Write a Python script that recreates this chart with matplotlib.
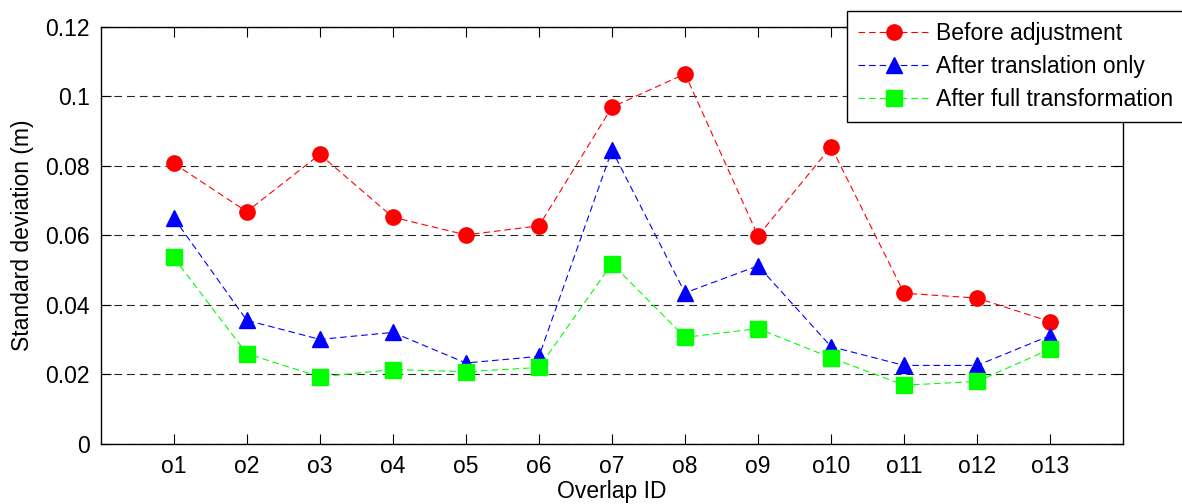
import matplotlib
matplotlib.use("Agg")
import matplotlib.pyplot as plt
import numpy as np

plt.rcParams['font.family'] = ['Liberation Sans', 'DejaVu Sans']

# Overlap ids and standard deviations (m)
overlaps = ["o1", "o2", "o3", "o4", "o5", "o6", "o7", "o8", "o9", "o10", "o11", "o12", "o13"]
before_adj = [0.0807, 0.0668, 0.0833, 0.0652, 0.0601, 0.0627, 0.0969,
              0.1065, 0.0598, 0.0855, 0.0433, 0.0419, 0.0351]
after_translation = [0.0650, 0.0355, 0.0300, 0.0320, 0.0232, 0.0251, 0.0845,
                     0.0434, 0.0512, 0.0279, 0.0225, 0.0225, 0.0311]
after_full = [0.0536, 0.0259, 0.0192, 0.0213, 0.0207, 0.0219, 0.0518,
              0.0306, 0.0331, 0.0247, 0.0168, 0.0179, 0.0272]
y_ticks = [0, 0.02, 0.04, 0.06, 0.08, 0.1, 0.12]

x = np.arange(1, len(overlaps) + 1)

fig = plt.figure(figsize=(11.82, 5.04), dpi=100)
ax = fig.add_axes([0.0852, 0.120, 0.8651, 0.8265])

series = [
    (before_adj, 'o', '#ff0000', 'Before adjustment'),
    (after_translation, '^', '#0000ff', 'After translation only'),
    (after_full, 's', '#00ff00', 'After full transformation'),
]
for vals, mk, col, lab in series:
    ax.plot(x, vals, linestyle='--', dashes=(6, 3.5), lw=0.8, color=col,
            marker=mk, markersize=11, markerfacecolor=col, markeredgecolor=col,
            label=lab)

ax.set_xlim(0, 14)
ax.set_ylim(0, 0.12)
ax.set_xticks(x)
ax.set_xticklabels(overlaps)
ax.set_yticks(y_ticks)
ax.set_yticklabels([f"{v:g}" for v in y_ticks])
ax.yaxis.grid(True, linestyle=(0, (7, 4.5)), color='0.15', lw=0.8)
ax.set_axisbelow(True)

ax.tick_params(direction='in', length=7.5, width=0.8, labelsize=16.5,
               top=True, right=True, pad=8)
for sp in ax.spines.values():
    sp.set_linewidth(1.0)
    sp.set_color('black')

ax.set_xlabel('Overlap ID', fontsize=16.5, labelpad=2)
ax.set_ylabel('Standard deviation (m)', fontsize=16.5, labelpad=8)

# legend runs past the right edge of the figure, as in the original
leg = fig.legend(loc='upper left', bbox_to_anchor=(847 / 1182, 1 - 11 / 504),
                 fontsize=16.5, frameon=True, fancybox=False, edgecolor='black',
                 framealpha=1, borderpad=0.5, labelspacing=0.42,
                 handlelength=3.1, handletextpad=0.3, borderaxespad=0)
leg.get_frame().set_linewidth(1.0)

fig.savefig("out.png", dpi=100)
